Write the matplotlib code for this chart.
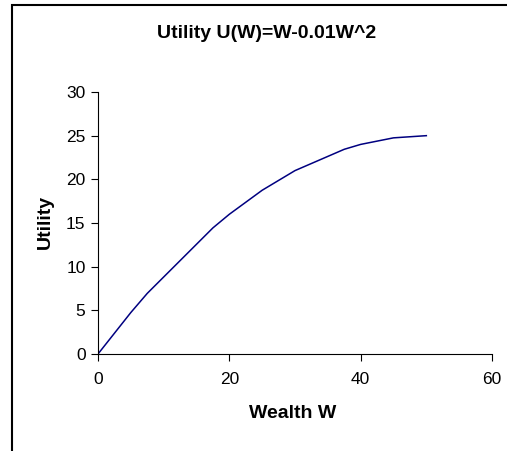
import matplotlib
matplotlib.use('Agg')
import matplotlib.pyplot as plt
from matplotlib.patches import Rectangle

plt.rcParams['font.family'] = ['Liberation Sans', 'DejaVu Sans']

# values
wealth = [0, 5, 7.5, 17.5, 20, 25, 30, 37.5, 40, 45, 50]
utility = [0, 4.75, 6.94, 14.44, 16.0, 18.75, 21.0, 23.44, 24.0, 24.75, 25.0]

fig = plt.figure(figsize=(5.07, 4.51), dpi=100)
ax = fig.add_axes([0.1933, 0.2151, 0.7771, 0.5809])

ax.plot(wealth, utility, color='#000080', linewidth=1.1)

ax.set_xlim(0, 60)
ax.set_ylim(0, 30)
ax.set_xticks([0, 20, 40, 60])
ax.set_yticks([0, 5, 10, 15, 20, 25, 30])
for s in ['top', 'right']:
    ax.spines[s].set_visible(False)
for s in ['left', 'bottom']:
    ax.spines[s].set_color('black')
    ax.spines[s].set_linewidth(0.8)
ax.tick_params(axis='both', direction='out', length=5, width=0.8, labelsize=12.5, colors='black')
ax.tick_params(axis='y', pad=4)
ax.tick_params(axis='x', pad=8)

fig.text(267 / 507, 1 - 33 / 451, 'Utility U(W)=W-0.01W^2', ha='center', va='center',
         fontsize=14, fontweight='bold')
fig.text(293 / 507, 1 - 413 / 451, 'Wealth W', ha='center', va='center', fontsize=14, fontweight='bold')
fig.text(45 / 507, 1 - 222 / 451, 'Utility', ha='center', va='center', rotation=90,
         fontsize=14, fontweight='bold')

# chart area frame
fig.patches.append(Rectangle((12 / 507, -0.1), 1.2, 1 - 5 / 451 + 0.1, transform=fig.transFigure,
                             fill=False, edgecolor='black', linewidth=1.5))

fig.savefig('out.png', dpi=100)
